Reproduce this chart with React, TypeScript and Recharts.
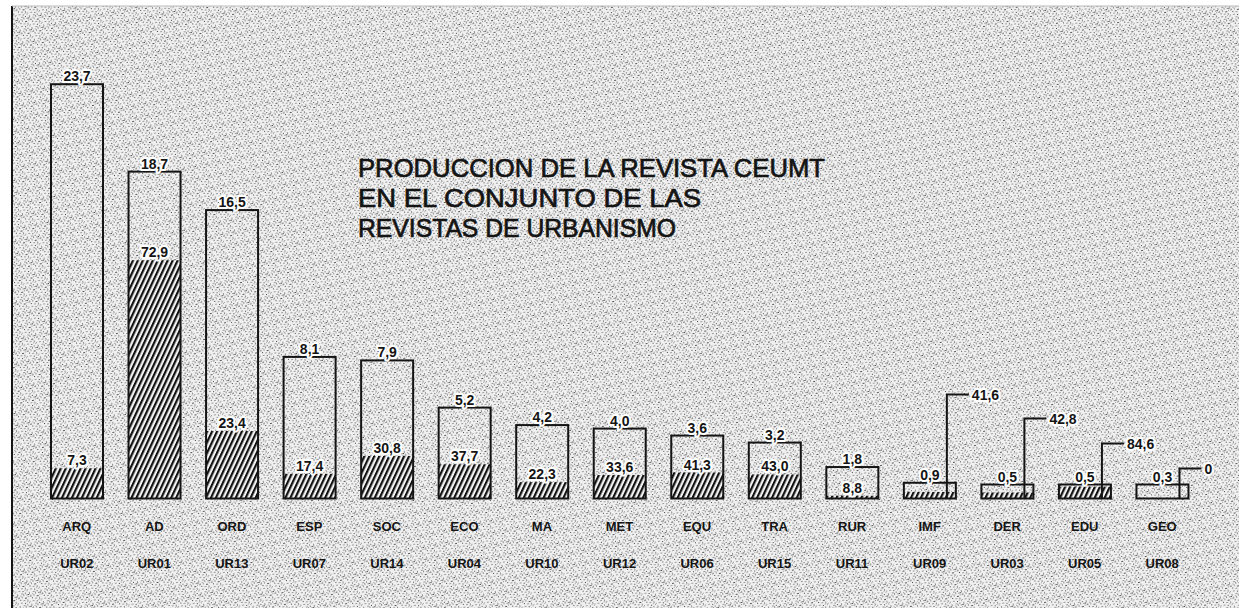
import React from 'react';
import { BarChart, Bar, XAxis, YAxis } from 'recharts';

// ---- data ----
const CATEGORIES = ['ARQ', 'AD', 'ORD', 'ESP', 'SOC', 'ECO', 'MA', 'MET', 'EQU', 'TRA', 'RUR', 'IMF', 'DER', 'EDU', 'GEO'];
const CODES = ['UR02', 'UR01', 'UR13', 'UR07', 'UR14', 'UR04', 'UR10', 'UR12', 'UR06', 'UR15', 'UR11', 'UR09', 'UR03', 'UR05', 'UR08'];
const SHARE_OF_TOTAL = [23.7, 18.7, 16.5, 8.1, 7.9, 5.2, 4.2, 4.0, 3.6, 3.2, 1.8, 0.9, 0.5, 0.5, 0.3];
const CEUMT_SHARE = [7.3, 72.9, 23.4, 17.4, 30.8, 37.7, 22.3, 33.6, 41.3, 43.0, 8.8, 41.6, 42.8, 84.6, 0];
const TITLE_LINES = ['PRODUCCION DE LA REVISTA CEUMT', 'EN EL CONJUNTO DE LAS', 'REVISTAS DE URBANISMO'];

// categories whose CEUMT share is shown with a leader line (style: rise above bar bottom, px)
const LEADER_RISE: Record<string, number> = { IMF: 104, DER: 80, EDU: 55, GEO: 30 };

const data = CATEGORIES.map((name, i) => ({
  name,
  code: CODES[i],
  total: SHARE_OF_TOTAL[i],
  pct: CEUMT_SHARE[i],
}));

const W = 1239;
const H = 608;
const FONT = "'Liberation Sans', Arial, 'DejaVu Sans', sans-serif";
const INK = '#141414';

const fmt = (v: number) => (v === 0 ? '0' : v.toFixed(1).replace('.', ','));

const numStyle: React.CSSProperties = {
  fontFamily: FONT,
  fontSize: 14,
  fontWeight: 700,
  fill: INK,
  stroke: '#ffffff',
  strokeWidth: 4,
  paintOrder: 'stroke',
  strokeLinejoin: 'round',
};

// stipple texture tile (style only)
const STIPPLE: [number, number, number, number, string][] = [
  [1, 1, 2, 1, '#8f8f8f'], [5, 0, 1, 2, '#9a9a9a'], [8, 2, 2, 1, '#555'], [11, 1, 1, 1, '#8f8f8f'],
  [3, 3, 1, 1, '#444'], [6, 4, 2, 1, '#9a9a9a'], [10, 4, 1, 2, '#8f8f8f'], [0, 6, 1, 1, '#8f8f8f'],
  [3, 6, 2, 1, '#9a9a9a'], [7, 7, 1, 1, '#444'], [11, 7, 1, 1, '#9a9a9a'], [1, 9, 1, 2, '#8f8f8f'],
  [5, 9, 2, 1, '#9a9a9a'], [9, 9, 1, 1, '#555'], [10, 11, 2, 1, '#8f8f8f'], [0, 11, 1, 1, '#444'],
  [4, 11, 1, 1, '#9a9a9a'], [7, 10, 1, 2, '#8f8f8f'], [2, 0, 1, 1, '#aaa'], [9, 6, 1, 1, '#aaa'],
];

const BarShape = (props: any) => {
  const { x, y, width, height, payload } = props;
  const bottom = y + height;
  const hh = (height * payload.pct) / 100;
  const hatchTop = bottom - hh;
  const rise = LEADER_RISE[payload.name];
  const cx = x + width / 2;
  const lx = x + width - 9;
  return (
    <g>
      {hh > 0 && <rect x={x} y={hatchTop} width={width} height={hh} fill="url(#hatch)" />}
      <rect x={x} y={y} width={width} height={height} fill="none" stroke={INK} strokeWidth={2} />
      <text x={cx} y={y - 3} textAnchor="middle" style={numStyle}>
        {fmt(payload.total)}
      </text>
      {rise === undefined ? (
        <text x={cx} y={hatchTop - 3} textAnchor="middle" style={numStyle}>
          {fmt(payload.pct)}
        </text>
      ) : (
        <g>
          <polyline
            points={`${lx},${bottom} ${lx},${bottom - rise} ${lx + 22},${bottom - rise}`}
            fill="none"
            stroke={INK}
            strokeWidth={2}
          />
          <text x={lx + 25} y={bottom - rise + 5} textAnchor="start" style={numStyle}>
            {fmt(payload.pct)}
          </text>
        </g>
      )}
    </g>
  );
};

const Tick = (props: any) => {
  const { x, y, payload, index } = props;
  const st: React.CSSProperties = { fontFamily: FONT, fontSize: 13, fontWeight: 700, fill: INK };
  return (
    <g>
      <text x={x} y={y + 32.5} textAnchor="middle" style={st}>
        {payload.value}
      </text>
      <text x={x} y={y + 69.5} textAnchor="middle" style={st}>
        {CODES[index]}
      </text>
    </g>
  );
};

export default function App() {
  return (
    <div style={{ position: 'absolute', left: 0, top: 0, width: W, height: H, background: '#fff' }}>
      <svg width={W} height={H} style={{ position: 'absolute', left: 0, top: 0 }}>
        <defs>
          <pattern id="stipple" patternUnits="userSpaceOnUse" width={12} height={12} patternTransform="rotate(-12)">
            <rect x={0} y={0} width={12} height={12} fill="#f0f0f0" />
            {STIPPLE.map(([sx, sy, sw, sh, c], i) => (
              <rect key={i} x={sx} y={sy} width={sw} height={sh} fill={c} />
            ))}
          </pattern>
          <pattern id="hatch" patternUnits="userSpaceOnUse" width={4.5} height={10} patternTransform="rotate(25)">
            <rect x={0} y={0} width={4.5} height={10} fill="#f4f4f4" />
            <rect x={0} y={0} width={2.2} height={10} fill="#111" />
          </pattern>
        </defs>
        <rect x={12} y={6} width={W - 12} height={H - 6} fill="url(#stipple)" />
        <line x1={12} y1={6} x2={12} y2={H} stroke={INK} strokeWidth={2} />
        <line x1={12} y1={6} x2={W} y2={6} stroke="#bbb" strokeWidth={1} />
        {TITLE_LINES.map((t, i) => (
          <text
            key={t}
            x={358}
            y={177 + i * 30}
            textLength={[467, 343, 318][i]}
            lengthAdjust="spacingAndGlyphs"
            style={{
              fontFamily: FONT,
              fontSize: 26,
              fill: INK,
              stroke: INK,
              strokeWidth: 0.7,
            }}
          >
            {t}
          </text>
        ))}
      </svg>
      <div style={{ position: 'absolute', left: 0, top: 0 }}>
        <BarChart
          width={W}
          height={H}
          data={data}
          margin={{ top: 61.5, right: 38, bottom: 29.5, left: 38 }}
          barCategoryGap={0}
        >
          <XAxis
            dataKey="name"
            height={80}
            axisLine={false}
            tickLine={false}
            tickSize={0}
            tickMargin={0}
            interval={0}
            tick={<Tick />}
          />
          <YAxis hide domain={[0, 25]} />
          <Bar
            dataKey="total"
            barSize={52}
            minPointSize={14}
            shape={<BarShape />}
            isAnimationActive={false}
          />
        </BarChart>
      </div>
    </div>
  );
}
